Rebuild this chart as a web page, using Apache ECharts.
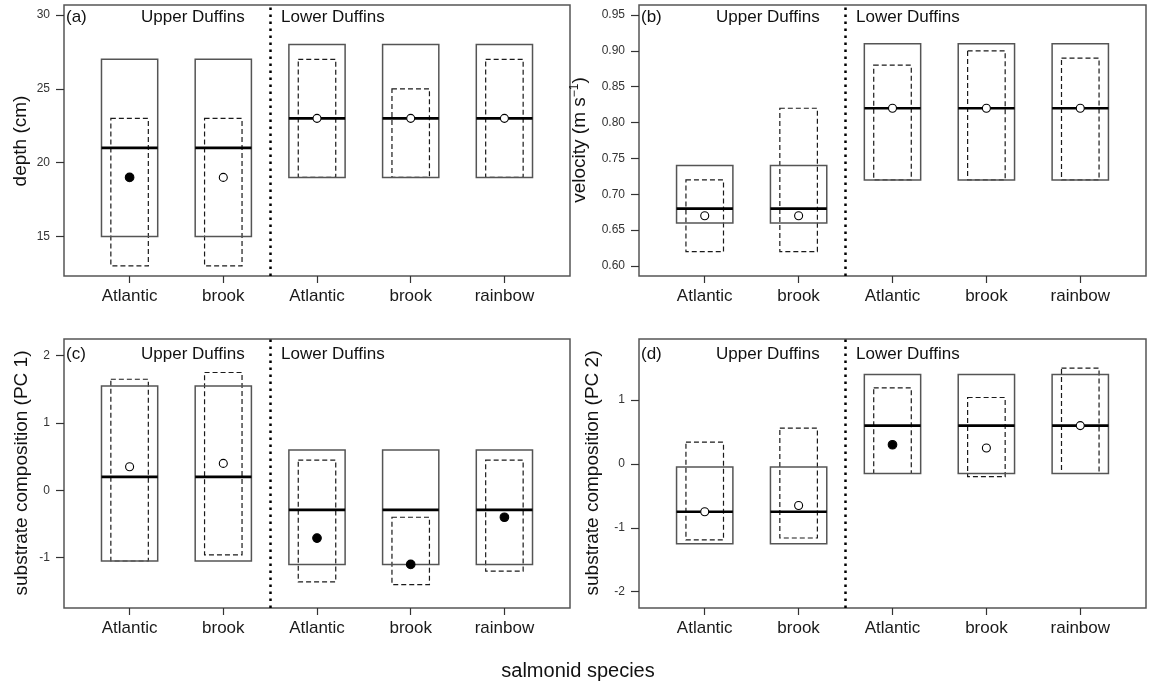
<!DOCTYPE html>
<html>
<head>
<meta charset="utf-8">
<script src="https://cdn.jsdelivr.net/npm/echarts@6/dist/echarts.min.js"></script>
<style>
html,body{margin:0;padding:0;background:#ffffff;}
#chart{width:1152px;height:687px;}
</style>
</head>
<body>
<div id="chart"></div>
<script>
// ---------- data ----------
const categories = ['Atlantic', 'brook', 'Atlantic', 'brook', 'rainbow'];
const positions = [1, 2, 3, 4, 5];
const dividerX = 2.5;

// (a) depth (cm)
const depthSolidLow  = [15, 15, 19, 19, 19];
const depthSolidHigh = [27, 27, 28, 28, 28];
const depthMedian    = [21, 21, 23, 23, 23];
const depthDashLow   = [13, 13, 19, 19, 19];
const depthDashHigh  = [23, 23, 27, 25, 27];
const depthPoint     = [19, 19, 23, 23, 23];
const depthFilled    = [1, 0, 0, 0, 0];
const depthTicks     = [15, 20, 25, 30];

// (b) velocity (m s-1)
const velSolidLow  = [0.66, 0.66, 0.72, 0.72, 0.72];
const velSolidHigh = [0.74, 0.74, 0.91, 0.91, 0.91];
const velMedian    = [0.68, 0.68, 0.82, 0.82, 0.82];
const velDashLow   = [0.62, 0.62, 0.72, 0.72, 0.72];
const velDashHigh  = [0.72, 0.82, 0.88, 0.90, 0.89];
const velPoint     = [0.67, 0.67, 0.82, 0.82, 0.82];
const velFilled    = [0, 0, 0, 0, 0];
const velTicks     = [0.60, 0.65, 0.70, 0.75, 0.80, 0.85, 0.90, 0.95];

// (c) substrate composition (PC 1)
const pc1SolidLow  = [-1.05, -1.05, -1.10, -1.10, -1.10];
const pc1SolidHigh = [1.55, 1.55, 0.60, 0.60, 0.60];
const pc1Median    = [0.20, 0.20, -0.29, -0.29, -0.29];
const pc1DashLow   = [-1.05, -0.96, -1.36, -1.40, -1.20];
const pc1DashHigh  = [1.65, 1.75, 0.45, -0.40, 0.45];
const pc1Point     = [0.35, 0.40, -0.71, -1.10, -0.40];
const pc1Filled    = [0, 0, 1, 1, 1];
const pc1Ticks     = [-1, 0, 1, 2];

// (d) substrate composition (PC 2)
const pc2SolidLow  = [-1.25, -1.25, -0.15, -0.15, -0.15];
const pc2SolidHigh = [-0.05, -0.05, 1.40, 1.40, 1.40];
const pc2Median    = [-0.75, -0.75, 0.60, 0.60, 0.60];
const pc2DashLow   = [-1.19, -1.16, -0.15, -0.20, -0.15];
const pc2DashHigh  = [0.34, 0.56, 1.19, 1.04, 1.50];
const pc2Point     = [-0.75, -0.65, 0.30, 0.25, 0.60];
const pc2Filled    = [0, 0, 1, 0, 0];
const pc2Ticks     = [-2, -1, 0, 1];

// ---------- layout ----------
const FONT = "'Liberation Sans', Arial, Helvetica, sans-serif";
const NARROW = "'Liberation Sans Narrow', 'Arial Narrow', 'Liberation Sans', Arial, sans-serif";

const panels = [
  { grid: {left: 64,  top: 5,   width: 506, height: 271}, ymin: 12.32, ymax: 30.68, ticks: depthTicks, dec: 0,
    sl: depthSolidLow, sh: depthSolidHigh, md: depthMedian, dl: depthDashLow, dh: depthDashHigh, pt: depthPoint, fl: depthFilled },
  { grid: {left: 639, top: 5,   width: 507, height: 271}, ymin: 0.586, ymax: 0.964, ticks: velTicks, dec: 2,
    sl: velSolidLow, sh: velSolidHigh, md: velMedian, dl: velDashLow, dh: velDashHigh, pt: velPoint, fl: velFilled },
  { grid: {left: 64,  top: 339, width: 506, height: 269}, ymin: -1.748, ymax: 2.248, ticks: pc1Ticks, dec: 0,
    sl: pc1SolidLow, sh: pc1SolidHigh, md: pc1Median, dl: pc1DashLow, dh: pc1DashHigh, pt: pc1Point, fl: pc1Filled },
  { grid: {left: 639, top: 339, width: 507, height: 269}, ymin: -2.256, ymax: 1.956, ticks: pc2Ticks, dec: 0,
    sl: pc2SolidLow, sh: pc2SolidHigh, md: pc2Median, dl: pc2DashLow, dh: pc2DashHigh, pt: pc2Point, fl: pc2Filled }
];

const SOLID_HALF = 0.3;
const DASH_HALF = 0.2;

function renderBox(params, api) {
  const x = api.value(0);
  const sl = api.value(1), sh = api.value(2), md = api.value(3);
  const dl = api.value(4), dh = api.value(5), pt = api.value(6), fl = api.value(7);
  const s0 = api.coord([x - SOLID_HALF, sh]);
  const s1 = api.coord([x + SOLID_HALF, sl]);
  const d0 = api.coord([x - DASH_HALF, dh]);
  const d1 = api.coord([x + DASH_HALF, dl]);
  const m0 = api.coord([x - SOLID_HALF, md]);
  const m1 = api.coord([x + SOLID_HALF, md]);
  const p = api.coord([x, pt]);
  return {
    type: 'group',
    children: [
      { type: 'rect', shape: {x: d0[0], y: d0[1], width: d1[0] - d0[0], height: d1[1] - d0[1]},
        style: {fill: 'none', stroke: '#1a1a1a', lineWidth: 1.2, lineDash: [5, 3]} },
      { type: 'rect', shape: {x: s0[0], y: s0[1], width: s1[0] - s0[0], height: s1[1] - s0[1]},
        style: {fill: 'none', stroke: '#555555', lineWidth: 1.5} },
      { type: 'line', shape: {x1: m0[0], y1: m0[1], x2: m1[0], y2: m1[1]},
        style: {stroke: '#000000', lineWidth: 2.6} },
      { type: 'circle', shape: {cx: p[0], cy: p[1], r: fl ? 4.3 : 4},
        style: {fill: fl ? '#000000' : '#ffffff', stroke: '#000000', lineWidth: 1.1} }
    ]
  };
}

const grids = [], xAxes = [], yAxes = [], series = [];
panels.forEach((pn, i) => {
  grids.push(Object.assign({show: true, borderColor: '#555555', borderWidth: 1.5, backgroundColor: 'transparent', containLabel: false}, pn.grid));
  xAxes.push({
    type: 'value', gridIndex: i, min: 0.3, max: 5.7, position: 'bottom',
    axisLine: {show: false, onZero: false},
    splitLine: {show: false},
    axisTick: {show: true, length: 7, customValues: positions, lineStyle: {color: '#333', width: 1.2}},
    axisLabel: {show: true, customValues: positions, margin: 12, fontSize: 17, fontFamily: FONT, color: '#1a1a1a',
      formatter: v => categories[Math.round(v) - 1]}
  });
  yAxes.push({
    type: 'value', gridIndex: i, min: pn.ymin, max: pn.ymax, position: 'left',
    axisLine: {show: false, onZero: false},
    splitLine: {show: false},
    axisTick: {show: true, length: 8, customValues: pn.ticks, lineStyle: {color: '#333', width: 1.2}},
    axisLabel: {show: true, customValues: pn.ticks, margin: 14, fontSize: 12, fontFamily: NARROW, color: '#333',
      formatter: v => Number(v).toFixed(pn.dec)}
  });
  const data = positions.map((x, k) => [x, pn.sl[k], pn.sh[k], pn.md[k], pn.dl[k], pn.dh[k], pn.pt[k], pn.fl[k]]);
  series.push({
    type: 'custom', xAxisIndex: i, yAxisIndex: i, data: data, renderItem: renderBox, silent: true,
    clip: false,
    encode: {x: 0, y: [1, 2, 3, 4, 5, 6]},
    markLine: {
      silent: true, symbol: 'none', animation: false,
      label: {show: false},
      lineStyle: {color: '#000', width: 2.5, type: [2.5, 4.5]},
      data: [{xAxis: dividerX}]
    }
  });
});

function txt(text, x, y, size, opts) {
  return Object.assign({
    type: 'text', x: x, y: y, silent: true,
    style: Object.assign({text: text, fontSize: size, fontFamily: FONT, fill: '#111',
      align: 'left', verticalAlign: 'middle', textAlign: 'left', textVerticalAlign: 'middle'}, (opts && opts.style) || {})
  }, (opts && opts.el) || {});
}

const rot = {el: {rotation: Math.PI / 2}, style: {align: 'center', textAlign: 'center'}};
const graphic = [
  txt('(a)', 66, 17, 17), txt('Upper Duffins', 141, 17, 17), txt('Lower Duffins', 281, 17, 17),
  txt('(b)', 641, 17, 17), txt('Upper Duffins', 716, 17, 17), txt('Lower Duffins', 856, 17, 17),
  txt('(c)', 66, 354, 17), txt('Upper Duffins', 141, 354, 17), txt('Lower Duffins', 281, 354, 17),
  txt('(d)', 641, 354, 17), txt('Upper Duffins', 716, 354, 17), txt('Lower Duffins', 856, 354, 17),
  txt('depth (cm)', 21, 141, 19, rot),
  txt('substrate composition (PC 1)', 22, 473, 19, rot),
  txt('substrate composition (PC 2)', 593, 473, 19, rot),
  {
    type: 'text', x: 580, y: 140, rotation: Math.PI / 2, silent: true,
    style: {text: 'velocity (m s{sup|−1})', fontSize: 19, fontFamily: FONT, fill: '#111',
      align: 'center', verticalAlign: 'middle', textAlign: 'center', textVerticalAlign: 'middle',
      rich: {sup: {fontSize: 12, fontFamily: FONT, fill: '#111', verticalAlign: 'top', padding: [0, 0, 10, 0]}}}
  },
  txt('salmonid species', 578, 671, 20, {style: {align: 'center', textAlign: 'center'}})
];

const chart = echarts.init(document.getElementById('chart'), null, {renderer: 'canvas'});
chart.setOption({
  animation: false,
  backgroundColor: '#ffffff',
  grid: grids,
  xAxis: xAxes,
  yAxis: yAxes,
  series: series,
  graphic: graphic
});
</script>
</body>
</html>
